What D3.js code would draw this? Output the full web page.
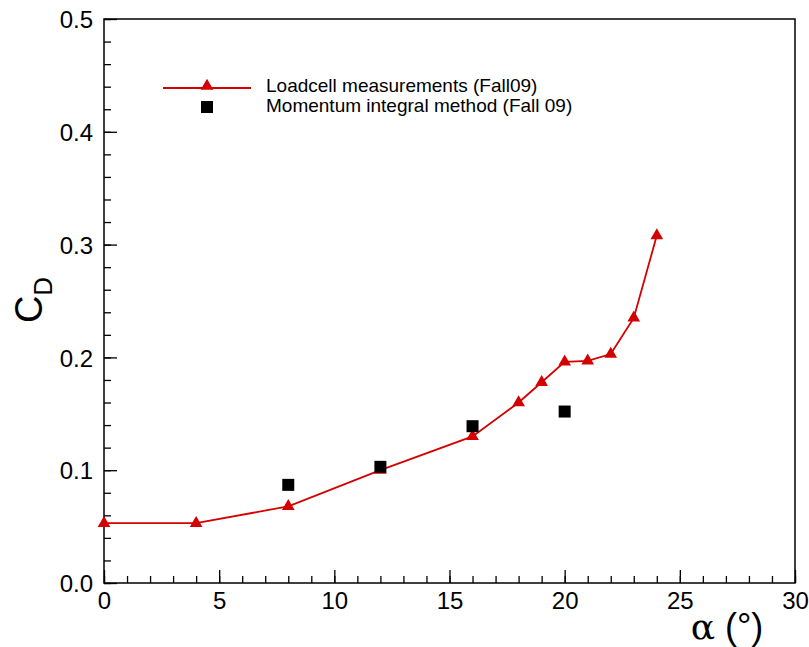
<!DOCTYPE html>
<html>
<head>
<meta charset="utf-8">
<script src="https://d3js.org/d3.v7.min.js"></script>
<style>
  body { margin: 0; background: white; }
  text { font-family: "Liberation Sans", Arial, sans-serif; fill: black; }
</style>
</head>
<body>
<svg id="chart" width="809" height="647"></svg>
<script>
// loadcell series
var loadAlpha = [0, 4, 8, 12, 16, 18, 19, 20, 21, 22, 23, 24];
var loadCd    = [0.053, 0.053, 0.068, 0.100, 0.130, 0.160, 0.178, 0.196, 0.197, 0.203, 0.235, 0.308];
// momentum integral series
var momAlpha = [8, 12, 16, 20];
var momCd    = [0.087, 0.103, 0.139, 0.152];

var xTicks = [0, 5, 10, 15, 20, 25, 30];
var yTicks = [0, 0.1, 0.2, 0.3, 0.4, 0.5];

var svg = d3.select("#chart");
var pLeft = 104, pRight = 795, pTop = 19, pBottom = 583;
var red = "#d40000";

var x = d3.scaleLinear().domain([0, 30]).range([pLeft, pRight]);
var y = d3.scaleLinear().domain([0, 0.5]).range([pBottom, pTop]);

// frame
svg.append("rect")
  .attr("x", pLeft).attr("y", pTop)
  .attr("width", pRight - pLeft).attr("height", pBottom - pTop)
  .attr("fill", "none").attr("stroke", "black").attr("stroke-width", 1.5);

// x axis ticks
var gx = svg.append("g").attr("transform", "translate(0," + pBottom + ")")
  .call(d3.axisTop(x).tickValues(xTicks).tickSize(13).tickFormat(d3.format("d")).tickSizeOuter(0));
gx.select(".domain").remove();
gx.attr("font-size", null).attr("font-family", null);
gx.selectAll("text").attr("y", 26).attr("dy", null).style("font-size", "24px");
gx.selectAll("line").attr("stroke-width", 1.3);
svg.append("g").attr("transform", "translate(0," + pBottom + ")")
  .call(d3.axisTop(x).ticks(30).tickSize(7).tickFormat("").tickSizeOuter(0))
  .call(function(g) { g.select(".domain").remove(); g.selectAll("line").attr("stroke-width", 1.3); });

// y axis ticks
var gy = svg.append("g").attr("transform", "translate(" + pLeft + ",0)")
  .call(d3.axisRight(y).tickValues(yTicks).tickSize(13).tickFormat(d3.format(".1f")).tickSizeOuter(0));
gy.select(".domain").remove();
gy.attr("font-size", null).attr("font-family", null);
gy.selectAll("text").attr("x", -11).attr("text-anchor", "end").attr("dy", "0.36em").style("font-size", "24px");
gy.selectAll("line").attr("stroke-width", 1.3);
svg.append("g").attr("transform", "translate(" + pLeft + ",0)")
  .call(d3.axisRight(y).ticks(25).tickSize(7).tickFormat("").tickSizeOuter(0))
  .call(function(g) { g.select(".domain").remove(); g.selectAll("line").attr("stroke-width", 1.3); });

// axis titles
svg.append("text").attr("x", 727).attr("y", 639).attr("text-anchor", "middle")
  .style("font-size", "36px")
  .html('<tspan style="font-family:\'DejaVu Serif\', serif">α</tspan> (°)');
var yl = svg.append("text").attr("transform", "translate(42,300) rotate(-90)").attr("text-anchor", "middle")
  .style("font-size", "38px");
yl.append("tspan").text("C");
yl.append("tspan").attr("dy", 10).style("font-size", "26px").text("D");

// loadcell line
var pts = loadAlpha.map(function(a, i) { return [a, loadCd[i]]; });
svg.append("path").datum(pts)
  .attr("fill", "none").attr("stroke", red).attr("stroke-width", 1.8)
  .attr("d", d3.line().x(function(d) { return x(d[0]); }).y(function(d) { return y(d[1]); }));

var tri = d3.symbol().type(d3.symbolTriangle).size(70);
svg.selectAll(".tri").data(pts).enter().append("path")
  .attr("transform", function(d) { return "translate(" + x(d[0]) + "," + y(d[1]) + ")"; })
  .attr("d", tri).attr("fill", red);

// momentum squares
svg.selectAll(".sq").data(momAlpha).enter().append("rect")
  .attr("x", function(d) { return x(d) - 6; })
  .attr("y", function(d, i) { return y(momCd[i]) - 6; })
  .attr("width", 12).attr("height", 12).attr("fill", "black");

// legend
svg.append("line").attr("x1", 163).attr("x2", 251).attr("y1", 88).attr("y2", 88)
  .attr("stroke", red).attr("stroke-width", 1.8);
svg.append("path").attr("transform", "translate(207,86)").attr("d", tri).attr("fill", red);
svg.append("rect").attr("x", 201).attr("y", 101).attr("width", 12).attr("height", 12).attr("fill", "black");
svg.append("text").attr("x", 266).attr("y", 92).style("font-size", "19px").text("Loadcell measurements (Fall09)");
svg.append("text").attr("x", 266).attr("y", 112).style("font-size", "19px").text("Momentum integral method (Fall 09)");
</script>
</body>
</html>
